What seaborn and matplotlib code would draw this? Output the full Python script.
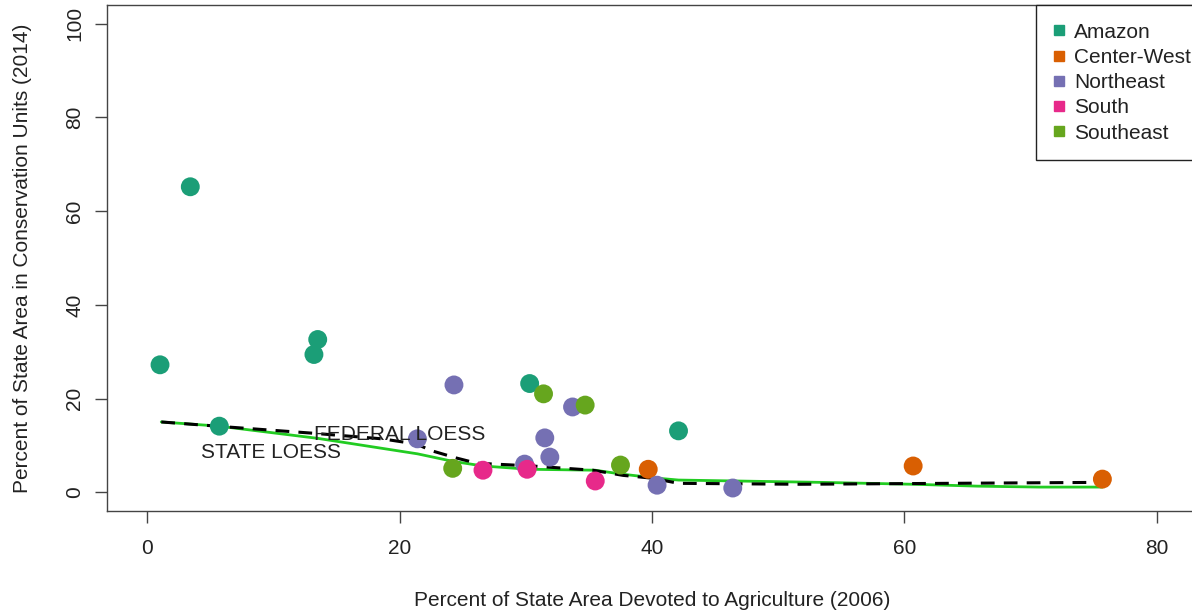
import pandas as pd
import seaborn as sns
import matplotlib
matplotlib.use("Agg")
import matplotlib.pyplot as plt
from matplotlib.lines import Line2D

# state points, grouped by region
regions = (["Amazon"] * 7 + ["Center-West"] * 3 + ["Northeast"] * 8
           + ["South"] * 3 + ["Southeast"] * 4)
agri_2006 = [1.0, 3.4, 5.7, 13.2, 13.5, 30.3, 42.1,
             39.7, 60.7, 75.7,
             21.4, 24.3, 29.9, 31.5, 31.9, 33.7, 40.4, 46.4,
             26.6, 30.1, 35.5,
             24.2, 31.4, 34.7, 37.5]
cons_2014 = [27.2, 65.2, 14.1, 29.4, 32.6, 23.2, 13.1,
             4.9, 5.6, 2.8,
             11.4, 22.9, 6.0, 11.6, 7.5, 18.2, 1.5, 0.9,
             4.7, 4.9, 2.4,
             5.1, 21.0, 18.6, 5.8]

region_names = ["Amazon", "Center-West", "Northeast", "South", "Southeast"]
region_colors = ["#1B9E77", "#D95F02", "#7570B3", "#E7298A", "#66A61E"]

# loess curves
state_x = [1.1, 5.7, 13.5, 21.4, 24.2, 26.6, 30.3, 35.5, 37.5, 40.4,
           42.1, 53.5, 60.7, 65.8, 70.7, 75.7]
state_y = [15.0, 14.1, 11.5, 8.2, 6.6, 5.6, 4.9, 4.7, 3.9, 3.0,
           2.6, 2.1, 1.7, 1.3, 1.1, 1.1]
federal_x = [1.1, 6.5, 13.1, 18.6, 21.3, 22.6, 24.5, 26.1, 30.5, 35.3,
             37.7, 40.0, 42.1, 51.7, 75.3]
federal_y = [15.0, 13.9, 12.6, 11.4, 10.3, 8.8, 7.3, 6.2, 5.6, 4.7,
             3.6, 3.0, 1.9, 1.7, 2.1]

df = pd.DataFrame({"Region": regions, "Agri": agri_2006, "Cons": cons_2014})
state_df = pd.DataFrame({"x": state_x, "y": state_y})
federal_df = pd.DataFrame({"x": federal_x, "y": federal_y})

sns.set_style("white")
plt.rcParams["font.family"] = ["Liberation Sans", "DejaVu Sans"]
text_color = "#222222"
fs = 15

fig = plt.figure(figsize=(11.92, 6.16), dpi=100)
ax = fig.add_axes([0.0898, 0.1705, 0.9144, 0.8214])

sns.lineplot(data=state_df, x="x", y="y", ax=ax, color="#22CC22",
             linewidth=2, sort=False, estimator=None, zorder=2)
sns.lineplot(data=federal_df, x="x", y="y", ax=ax, color="black",
             linewidth=2.2, linestyle=(0, (4.5, 3)), sort=False,
             estimator=None, zorder=2)

sns.scatterplot(data=df, x="Agri", y="Cons", hue="Region",
                hue_order=region_names, palette=region_colors,
                s=185, linewidth=0, ax=ax, legend=False, zorder=3)

ax.text(20, 12.4, "FEDERAL LOESS", fontsize=fs, color=text_color,
        ha="center", va="center", zorder=4)
ax.text(9.8, 8.4, "STATE LOESS", fontsize=fs, color=text_color,
        ha="center", va="center", zorder=4)

ax.set_xlim(-3.2, 83.2)
ax.set_ylim(-4, 104)
ax.set_xticks([0, 20, 40, 60, 80])
ax.set_yticks([0, 20, 40, 60, 80, 100])
ax.tick_params(axis="both", direction="out", length=8.5, width=1,
               color="#444444", labelsize=fs, labelcolor=text_color,
               bottom=True, left=True)
ax.tick_params(axis="x", pad=12)
ax.tick_params(axis="y", pad=8)
plt.setp(ax.get_yticklabels(), rotation=90, va="center")
for sp in ax.spines.values():
    sp.set_color("#444444")
    sp.set_linewidth(1)

ax.set_xlabel("Percent of State Area Devoted to Agriculture (2006)",
              fontsize=fs, color=text_color, va="center")
ax.set_ylabel("Percent of State Area in Conservation Units (2014)",
              fontsize=fs, color=text_color, va="center")
ax.xaxis.set_label_coords(0.5, -0.176)
ax.yaxis.set_label_coords(-0.078, 0.5)

handles = [Line2D([], [], marker="s", linestyle="", markersize=7,
                  markerfacecolor=c, markeredgecolor=c)
           for c in region_colors]
leg = ax.legend(handles, region_names, loc="upper right",
                bbox_to_anchor=(1.011, 1.0), borderaxespad=0,
                fontsize=fs, frameon=True, fancybox=False,
                framealpha=1, edgecolor="#222222", handlelength=0.5,
                handletextpad=0.5, labelspacing=0.3, borderpad=0.85)
leg.get_frame().set_linewidth(1)
for t in leg.get_texts():
    t.set_color(text_color)

fig.savefig("out.png", dpi=100)
